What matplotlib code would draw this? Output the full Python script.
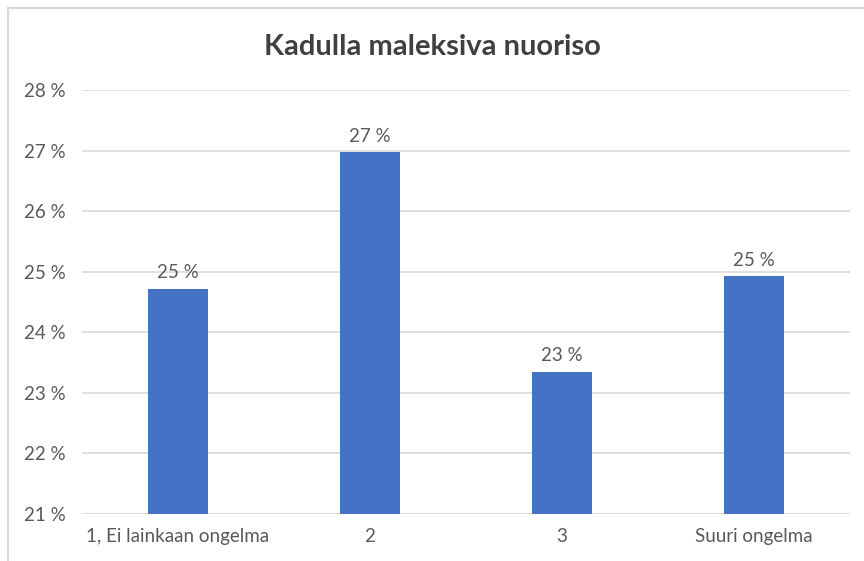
import matplotlib
matplotlib.use("Agg")
import matplotlib.pyplot as plt
from matplotlib.lines import Line2D

categories = ["1, Ei lainkaan ongelma", "2", "3", "Suuri ongelma"]
values = [24.72, 26.97, 23.35, 24.93]
labels = ["25 %", "27 %", "23 %", "25 %"]
yticks = [21, 22, 23, 24, 25, 26, 27, 28]
title = "Kadulla maleksiva nuoriso"

plt.rcParams['font.family'] = ['Lato', 'DejaVu Sans']

fig = plt.figure(figsize=(8.64, 5.61), dpi=100)
W, H = 864, 561
ax = fig.add_axes([82 / W, 1 - 514 / H, (850 - 82) / W, (514 - 90) / H])

x = list(range(len(categories)))
ax.bar(x, [v - 21 for v in values], bottom=21, width=0.31, color="#4472C4", zorder=3)
for xi, v, lab in zip(x, values, labels):
    ax.text(xi, v + 0.12, lab, ha="center", va="bottom", fontsize=13.5, color="#595959")

ax.set_xlim(-0.5, 3.5)
ax.set_ylim(21, 28)
ax.set_yticks(yticks)
ax.set_yticklabels([f"{t} %" for t in yticks])
ax.set_xticks(x)
ax.set_xticklabels(categories)
ax.tick_params(axis="both", length=0, colors="#595959", labelsize=13.5)
ax.tick_params(axis="y", pad=12)
ax.tick_params(axis="x", pad=10)
ax.grid(axis="y", color="#D9D9D9", linewidth=1.2, zorder=0)
for s in ax.spines.values():
    s.set_visible(False)

fig.text(0.5, 1 - 47 / H, title, ha="center", va="center", fontsize=21, fontweight="bold", color="#404040")

fig.add_artist(Line2D([8 / W, 8 / W], [0, 1 - 8 / H], transform=fig.transFigure, color="#D9D9D9", linewidth=1.5))
fig.add_artist(Line2D([8 / W, 1], [1 - 8 / H, 1 - 8 / H], transform=fig.transFigure, color="#D9D9D9", linewidth=1.5))

fig.savefig("out.png", dpi=100)
